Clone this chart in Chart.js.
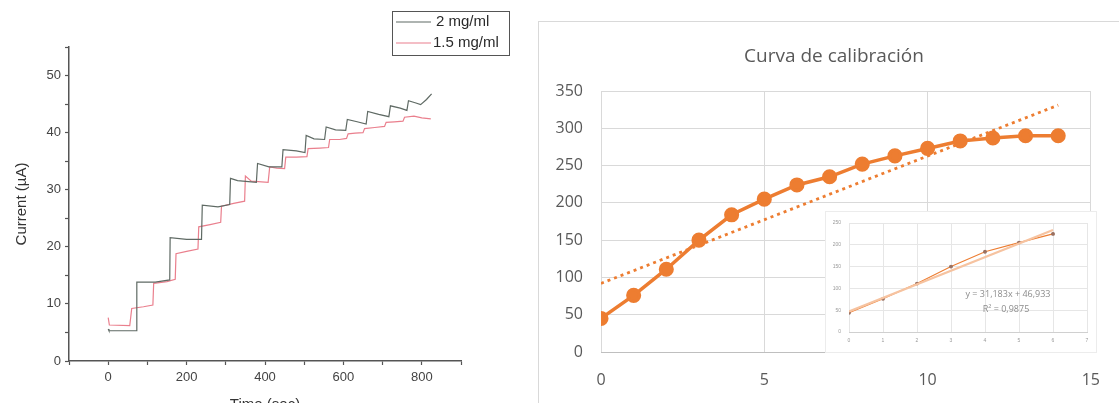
<!DOCTYPE html>
<html>
<head>
<meta charset="utf-8">
<script src="https://cdn.jsdelivr.net/npm/chart.js@4/dist/chart.umd.min.js"></script>
<style>
  html, body { margin: 0; padding: 0; background: #fff; width: 1119px; height: 403px; overflow: hidden; position: relative; }
  canvas { position: absolute; display: block; }
  #frame { position: absolute; left: 538px; top: 21px; width: 620px; height: 420px; border-left: 1px solid #d9d9d9; border-top: 1px solid #d9d9d9; box-sizing: border-box; background: #fff; }
  #detail { background: #fff; outline: 1px solid #ececec; }
</style>
</head>
<body>
<canvas id="amperometry" width="520" height="418" style="left:0;top:0"></canvas>
<div id="frame"></div>
<canvas id="calibration" width="580" height="381" style="left:539px;top:22px"></canvas>
<canvas id="detail" width="270" height="140" style="left:826px;top:212px"></canvas>

<script>
// ---- Amperometric response (left panel) ----
const seriesNames = ['2 mg/ml', '1.5 mg/ml'];
const seriesColors = ['#5f6a64', '#ea7f8d'];

// 2 mg/ml: time (s) and current (µA)
const timeA = [0, 2, 72, 73, 120, 157, 158, 200, 238, 240, 280, 310, 312, 330, 378, 381, 410, 443, 446, 480, 502, 505,
               525, 552, 556, 580, 606, 610, 635, 658, 662, 690, 716, 720, 745, 762, 766, 785, 797, 812, 825];
const currentA = [5.6, 5.3, 5.3, 13.8, 13.8, 14.2, 21.6, 21.3, 21.3, 27.3, 27.0, 27.4, 32.0, 31.6, 31.3, 34.6, 34.0, 34.0, 37.0, 36.8, 36.5, 39.5,
                  38.9, 38.8, 41.0, 40.5, 40.4, 42.3, 41.9, 41.5, 43.7, 43.2, 42.8, 44.7, 44.3, 43.9, 45.6, 45.2, 44.9, 45.8, 46.8];

// 1.5 mg/ml: time (s) and current (µA)
const timeB = [0, 3, 55, 60, 90, 114, 116, 150, 171, 173, 200, 229, 231, 260, 287, 289, 320, 348, 350, 365, 408, 412,
               430, 450, 453, 480, 507, 510, 540, 562, 565, 590, 608, 612, 630, 650, 654, 680, 705, 709, 730, 752, 756, 780, 800, 823];
const currentB = [7.6, 6.3, 6.2, 9.2, 9.5, 9.8, 13.6, 13.9, 14.3, 18.8, 19.2, 19.6, 23.5, 23.9, 24.3, 27.1, 27.6, 28.0, 32.4, 31.5, 31.3, 34.0,
                  33.8, 33.7, 35.7, 35.7, 35.8, 37.2, 37.3, 37.4, 38.8, 38.8, 39.0, 39.8, 39.9, 40.0, 40.7, 40.9, 41.1, 41.8, 41.9, 42.0, 42.7, 42.9, 42.6, 42.4];

// ---- Calibration curve (right panel) ----
const calibrationTitle = 'Curva de calibración';
const concentration = [0, 1, 2, 3, 4, 5, 6, 7, 8, 9, 10, 11, 12, 13, 14];
const signal = [45, 76, 111, 150, 184, 205, 224, 235, 252, 263, 273, 283, 287, 290, 290];
const trendX = [0, 14];
const trendY = [92, 331];

// ---- Linear range detail (inset) ----
const detailX = [0, 1, 2, 3, 4, 5, 6];
const detailY = [44, 76, 111, 150, 184, 205, 225];
const detailSlope = 31.183;
const detailIntercept = 46.933;
const detailR2 = 0.9875;

const pts = (xs, ys) => xs.map((x, i) => ({ x: x, y: ys[i] }));
const ORANGE = '#ED7D31';

// Legend box for the amperometry plot, drawn in the top-right corner
const boxLegend = {
  id: 'boxLegend',
  afterDraw(chart) {
    const ctx = chart.ctx;
    ctx.save();
    ctx.strokeStyle = '#555';
    ctx.lineWidth = 1;
    ctx.strokeRect(392.5, 11.5, 117, 44);
    ctx.font = '15px "Liberation Sans", Arial, sans-serif';
    ctx.textBaseline = 'middle';
    ctx.textAlign = 'left';
    chart.data.datasets.forEach((ds, i) => {
      const y = 22 + i * 21;
      ctx.strokeStyle = ds.borderColor;
      ctx.lineWidth = 1.2;
      ctx.beginPath();
      ctx.moveTo(396, y);
      ctx.lineTo(431, y);
      ctx.stroke();
      ctx.fillStyle = '#2a2a2a';
      ctx.fillText(ds.label, i === 0 ? 436 : 433, y);
    });
    ctx.restore();
  }
};

new Chart(document.getElementById('amperometry'), {
  type: 'scatter',
  data: {
    datasets: [
      { label: seriesNames[0], data: pts(timeA, currentA), showLine: true, borderColor: seriesColors[0], borderWidth: 1.2, pointRadius: 0, tension: 0 },
      { label: seriesNames[1], data: pts(timeB, currentB), showLine: true, borderColor: seriesColors[1], borderWidth: 1.2, pointRadius: 0, tension: 0 }
    ]
  },
  options: {
    responsive: false,
    animation: false,
    layout: { padding: { left: 0, top: 47, right: 59, bottom: 0 } },
    plugins: { legend: { display: false }, tooltip: { enabled: false } },
    scales: {
      x: {
        type: 'linear', min: -100, max: 900,
        afterFit: s => { s.height = 57; },
        ticks: {
          stepSize: 100, padding: 5, color: '#444',
          font: { family: '"Liberation Sans", Arial, sans-serif', size: 13 },
          maxRotation: 0, autoSkip: false,
          callback: v => (v >= 0 && v % 200 === 0) ? String(v) : ''
        },
        grid: { drawOnChartArea: false, tickLength: 4, tickColor: '#555', tickWidth: 1.2 },
        border: { color: '#555', width: 1.5 },
        title: { display: true, text: 'Time (sec)', color: '#333', font: { family: '"Liberation Sans", Arial, sans-serif', size: 15 }, padding: { top: 0, bottom: 4 } }
      },
      y: {
        type: 'linear', min: 0, max: 55,
        afterFit: s => { s.width = 69; },
        ticks: {
          stepSize: 5, padding: 4, color: '#444',
          font: { family: '"Liberation Sans", Arial, sans-serif', size: 13 },
          autoSkip: false,
          callback: v => (v % 10 === 0) ? String(v) : ''
        },
        grid: { drawOnChartArea: false, tickLength: 4, tickColor: '#555', tickWidth: 1.2 },
        border: { color: '#555', width: 1.5 },
        title: { display: true, text: 'Current (µA)', color: '#333', font: { family: '"Liberation Sans", Arial, sans-serif', size: 15 }, padding: { top: 13, bottom: 0 } }
      }
    }
  },
  plugins: [boxLegend]
});

// Chart heading, placed over the calibration plot
const heading = {
  id: 'heading',
  afterDraw(chart, args, opts) {
    const ctx = chart.ctx;
    ctx.save();
    ctx.font = '19px "Open Sans", "Noto Sans", sans-serif';
    ctx.fillStyle = '#595959';
    ctx.textAlign = 'center';
    ctx.textBaseline = 'middle';
    ctx.fillText(opts.text, opts.x, opts.y);
    ctx.restore();
  }
};

// Calibration curve with its linear trendline
const tickFont = { family: '"Open Sans", "Noto Sans", sans-serif', size: 16 };
new Chart(document.getElementById('calibration'), {
  type: 'scatter',
  data: {
    datasets: [
      { data: pts(concentration, signal), showLine: true, borderColor: ORANGE, backgroundColor: ORANGE, borderWidth: 3.5,
        pointRadius: 5.8, pointBorderColor: ORANGE, pointBackgroundColor: ORANGE, tension: 0 },
      { data: pts(trendX, trendY), showLine: true, borderColor: ORANGE, borderWidth: 2.8, borderDash: [3, 4], pointRadius: 0, tension: 0 }
    ]
  },
  options: {
    responsive: false,
    animation: false,
    layout: { padding: { left: 0, top: 69, right: 24, bottom: 0 } },
    plugins: {
      legend: { display: false },
      tooltip: { enabled: false },
      heading: { text: calibrationTitle, x: 295, y: 35 }
    },
    scales: {
      x: {
        type: 'linear', min: 0, max: 15,
        afterFit: s => { s.height = 51; },
        ticks: { stepSize: 5, padding: 19, color: '#595959', font: tickFont, maxRotation: 0 },
        grid: { color: '#d9d9d9', drawTicks: false },
        border: { color: '#bfbfbf', width: 1 }
      },
      y: {
        type: 'linear', min: 0, max: 350,
        afterFit: s => { s.width = 62; },
        ticks: { stepSize: 50, padding: 18, color: '#595959', font: tickFont },
        grid: { color: '#d9d9d9', drawTicks: false },
        border: { display: false }
      }
    }
  },
  plugins: [heading]
});

// Inset: first seven standards with the fitted equation
const fmt = (v, d) => v.toFixed(d).replace('.', ',');
const equationLabel = {
  id: 'equationLabel',
  afterDraw(chart) {
    const ctx = chart.ctx;
    ctx.save();
    ctx.font = '9px "Open Sans", "Noto Sans", sans-serif';
    ctx.fillStyle = '#8c8c8c';
    ctx.textAlign = 'center';
    ctx.textBaseline = 'middle';
    ctx.fillText('y = ' + fmt(detailSlope, 3) + 'x + ' + fmt(detailIntercept, 3), 182, 82);
    ctx.fillText('R² = ' + fmt(detailR2, 4), 180, 97);
    ctx.restore();
  }
};

new Chart(document.getElementById('detail'), {
  type: 'scatter',
  data: {
    datasets: [
      { data: [{ x: 0, y: detailIntercept }, { x: 6, y: detailIntercept + 6 * detailSlope }], showLine: true,
        borderColor: '#f6c3a0', borderWidth: 2.2, pointRadius: 0, tension: 0 },
      { data: pts(detailX, detailY), showLine: true, borderColor: ORANGE, borderWidth: 1.1, tension: 0,
        pointRadius: 1.4, pointBackgroundColor: '#9a7060', pointBorderColor: '#9a7060' }
    ]
  },
  options: {
    responsive: false,
    animation: false,
    layout: { padding: { left: 0, top: 4, right: 9, bottom: 0 } },
    plugins: { legend: { display: false }, tooltip: { enabled: false } },
    scales: {
      x: {
        type: 'linear', min: 0, max: 7,
        afterFit: s => { s.height = 20; },
        ticks: { stepSize: 1, padding: 6, color: '#9a9a9a', font: { size: 5 }, maxRotation: 0 },
        grid: { color: '#e6e6e6', drawTicks: false },
        border: { color: '#d0d0d0' }
      },
      y: {
        type: 'linear', min: 0, max: 250,
        afterFit: s => { s.width = 23; },
        ticks: { stepSize: 50, padding: 8, color: '#9a9a9a', font: { size: 5 } },
        grid: { color: '#e6e6e6', drawTicks: false },
        border: { display: false }
      }
    }
  },
  plugins: [equationLabel]
});
</script>
</body>
</html>
